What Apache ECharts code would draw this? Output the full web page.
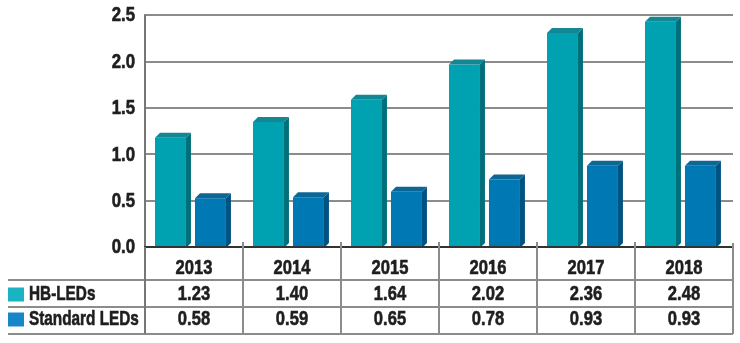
<!DOCTYPE html>
<html>
<head>
<meta charset="utf-8">
<script src="https://cdn.jsdelivr.net/npm/echarts@6/dist/echarts.min.js"></script>
<style>
  html, body { margin: 0; padding: 0; background: #fff; }
  #chart { width: 740px; height: 343px; }
</style>
</head>
<body>
<div id="chart"></div>
<script>
// LED market values by year
const years = ['2013', '2014', '2015', '2016', '2017', '2018'];
const hbLeds = [1.23, 1.40, 1.64, 2.02, 2.36, 2.48];
const standardLeds = [0.58, 0.59, 0.65, 0.78, 0.93, 0.93];
const seriesNames = ['HB-LEDs', 'Standard LEDs'];
const yTicks = [0, 0.5, 1.0, 1.5, 2.0, 2.5];

// plot frame and table rows
const L = 145, R = 733, T = 15, B = 247;
const W = 740, H = 343;
const ROW1 = 280, ROW2 = 307, ROW3 = 334;
const HEAD_Y = 268, HB_Y = 294.5, STD_Y = 319.5;

// narrow bold lettering: Arial-metric face squeezed horizontally
const FONT = "'Liberation Sans', Arial, sans-serif";
const TXT = '#1e1e1e';
const GRID = '#8c8c8c';

const palette = {
  hb: { front: '#00a2b2', side: '#006f7a', top: '#148794', key: '#19b3c2' },
  std: { front: '#0078b4', side: '#005381', top: '#0d6796', key: '#1884c9' }
};

// extruded bar: front face, right side and top face
function bar3d(offsetFrac, c) {
  return function (params, api) {
    const idx = api.value(0);
    const v = api.value(1);
    const top = api.coord([idx, v]);
    const base = api.coord([idx, 0]);
    const band = api.size([1, 0])[0];
    const w = band * 0.316;
    const d = 5;
    const x0 = top[0] + band * offsetFrac;
    const x1 = x0 + w;
    const yBack = top[1];
    const yFront = yBack + d;
    const yb = base[1] + 1;
    return {
      type: 'group',
      children: [
        { type: 'polygon', shape: { points: [[x0, yFront], [x1, yFront], [x1, yb], [x0, yb]] }, style: { fill: c.front } },
        { type: 'polygon', shape: { points: [[x1, yFront], [x1 + d, yBack], [x1 + d, yb - d], [x1, yb]] }, style: { fill: c.side } },
        { type: 'polygon', shape: { points: [[x0, yFront], [x0 + d, yBack], [x1 + d, yBack], [x1, yFront]] }, style: { fill: c.top } }
      ]
    };
  };
}

const chart = echarts.init(document.getElementById('chart'), null, { renderer: 'canvas' });

chart.setOption({
  animation: false,
  backgroundColor: '#ffffff',
  grid: { left: L, right: W - R, top: T, bottom: H - B, containLabel: false },
  xAxis: {
    type: 'category',
    data: years,
    position: 'bottom',
    axisLine: { show: true, lineStyle: { color: '#333', width: 2 } },
    axisTick: { show: true, interval: 0, length: ROW3 - B, lineStyle: { color: GRID, width: 2 } },
    axisLabel: { show: false },
    z: 3
  },
  yAxis: {
    type: 'value',
    min: yTicks[0],
    max: yTicks[yTicks.length - 1],
    interval: 0.5,
    axisLine: { show: true, lineStyle: { color: '#777', width: 2 } },
    axisTick: { show: false },
    splitLine: { show: true, lineStyle: { color: GRID, width: 2 } },
    axisLabel: { show: false }
  },
  series: [
    {
      name: seriesNames[0],
      type: 'custom',
      renderItem: bar3d(-0.398, palette.hb),
      data: hbLeds.map((v, i) => [i, v]),
      encode: { x: 0, y: 1 },
      z: 2
    },
    {
      name: seriesNames[1],
      type: 'custom',
      renderItem: bar3d(0.01, palette.std),
      data: standardLeds.map((v, i) => [i, v]),
      encode: { x: 0, y: 1 },
      z: 2
    }
  ]
});

const line = (x1, y1, x2, y2, color, width) => ({
  type: 'line',
  silent: true,
  shape: { x1, y1, x2, y2 },
  style: { stroke: color, lineWidth: width },
  z: 50
});

function label(text, x, y, align, size, sx) {
  return {
    type: 'text',
    x: x, y: y, scaleX: sx, z: 60, silent: true,
    style: {
      text: text, fill: TXT,
      stroke: TXT, lineWidth: 0.6,
      font: 'bold ' + size + 'px ' + FONT,
      align: align, verticalAlign: 'middle'
    }
  };
}

const g = [
  line(8, ROW1, R, ROW1, GRID, 2),
  line(8, ROW2, R, ROW2, GRID, 2),
  line(8, ROW3, R, ROW3, GRID, 2),
  line(L, B, L, ROW3, '#777', 2),
  line(R, B - 4, R, ROW3, GRID, 2)
];

// short stubs above the baseline at each category boundary
const band = (R - L) / years.length;
for (let i = 1; i < years.length; i++) {
  const x = L + band * i;
  g.push(line(x, B - 5, x, B, GRID, 2));
}

// value-axis labels
yTicks.forEach(v => {
  const y = chart.convertToPixel({ yAxisIndex: 0 }, v);
  g.push(label(v.toFixed(1), L - 10, y + 1, 'right', 19.5, 0.86));
});

// data table: year header, then one row per series
years.forEach((yr, i) => {
  const x = chart.convertToPixel({ xAxisIndex: 0 }, yr);
  g.push(label(yr, x, HEAD_Y, 'center', 21, 0.79));
  g.push(label(hbLeds[i].toFixed(2), x, HB_Y, 'center', 21, 0.79));
  g.push(label(standardLeds[i].toFixed(2), x, STD_Y, 'center', 21, 0.79));
});

// row headers with colour keys
[[palette.hb.key, seriesNames[0], HB_Y], [palette.std.key, seriesNames[1], STD_Y]].forEach(([col, name, cy]) => {
  g.push({ type: 'rect', shape: { x: 8, y: cy - 7, width: 16, height: 14 }, style: { fill: col }, z: 50 });
  g.push(label(name, 29, cy, 'left', 21, 0.73));
});

chart.setOption({ graphic: g });
</script>
</body>
</html>
